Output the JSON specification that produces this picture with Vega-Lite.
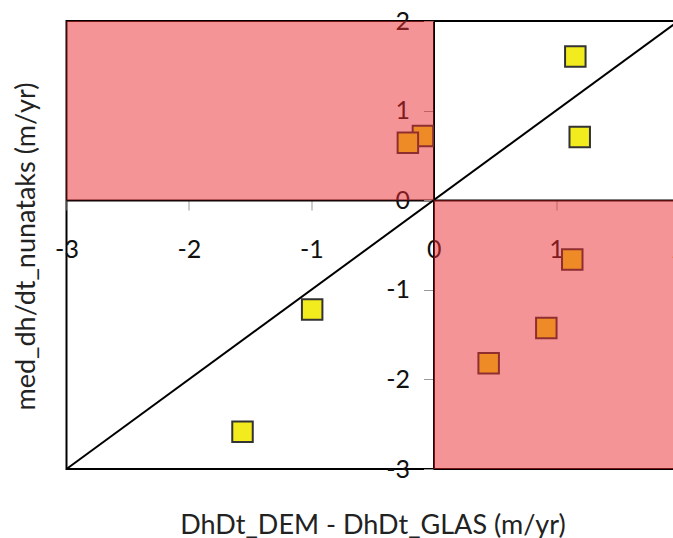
{
  "$schema": "https://vega.github.io/schema/vega-lite/v6.json",
  "width": 612,
  "height": 448,
  "autosize": {"type": "none"},
  "padding": {"left": 66.5, "top": 21, "right": 0, "bottom": 69},
  "background": "white",
  "config": {
    "view": {"stroke": "black", "strokeWidth": 2},
    "font": "Lato"
  },
  "datasets": {
    "points": [
      {"x": 1.157, "y": 1.604},
      {"x": 1.193, "y": 0.705},
      {"x": -0.088, "y": 0.717},
      {"x": -0.211, "y": 0.64},
      {"x": 1.132, "y": -0.663},
      {"x": 0.92, "y": -1.426},
      {"x": 0.449, "y": -1.82},
      {"x": -0.993, "y": -1.22},
      {"x": -1.562, "y": -2.585}
    ],
    "diag": [
      {"x": -3, "y": -3},
      {"x": 2, "y": 2}
    ],
    "zones": [
      {"x": -3, "x2": 0, "y": 0, "y2": 2},
      {"x": 0, "x2": 2, "y": -3, "y2": 0}
    ]
  },
  "layer": [
    {
      "data": {"name": "points"},
      "mark": {"type": "square", "size": 420, "fill": "#F2EC1E", "stroke": "#333333", "strokeWidth": 2, "opacity": 1},
      "encoding": {
        "x": {
          "field": "x", "type": "quantitative",
          "scale": {"domain": [-3, 2], "nice": false, "zero": false},
          "axis": {
            "title": "DhDt_DEM - DhDt_GLAS (m/yr)",
            "orient": "bottom",
            "offset": -269,
            "values": [-3, -2, -1, 0, 1, 2],
            "labelExpr": "'' + datum.value",
            "grid": false,
            "domainColor": "black",
            "domainWidth": 2,
            "tickColor": "#999999",
            "tickSize": 10,
            "labelFontSize": 25,
            "labelPadding": 27,
            "labelColor": "#111111",
            "labelFlush": false,
            "labelOverlap": false,
            "titleFontSize": 27,
            "titleFontWeight": "normal",
            "titleColor": "#222222",
            "titleY": 325,
            "titleBaseline": "middle"
          }
        },
        "y": {
          "field": "y", "type": "quantitative",
          "scale": {"domain": [-3, 2], "nice": false, "zero": false},
          "axis": {
            "title": "med_dh/dt_nunataks (m/yr)",
            "orient": "left",
            "offset": -367,
            "values": [-3, -2, -1, 0, 1, 2],
            "labelExpr": "'' + datum.value",
            "grid": false,
            "domainColor": "black",
            "domainWidth": 2,
            "tickColor": "#999999",
            "tickSize": 10,
            "labelFontSize": 25,
            "labelPadding": 14,
            "labelColor": "#111111",
            "labelFlush": false,
            "labelOverlap": false,
            "titleFontSize": 27,
            "titleFontWeight": "normal",
            "titleColor": "#222222",
            "titleX": -407,
            "titleY": 225,
            "titleBaseline": "middle"
          }
        }
      }
    },
    {
      "data": {"name": "diag"},
      "mark": {"type": "line", "color": "black", "strokeWidth": 2},
      "encoding": {
        "x": {"field": "x", "type": "quantitative"},
        "y": {"field": "y", "type": "quantitative"}
      }
    },
    {
      "data": {"name": "zones"},
      "mark": {"type": "rect", "color": "#EB2A30", "opacity": 0.5},
      "encoding": {
        "x": {"field": "x", "type": "quantitative"},
        "x2": {"field": "x2"},
        "y": {"field": "y", "type": "quantitative"},
        "y2": {"field": "y2"}
      }
    }
  ]
}
